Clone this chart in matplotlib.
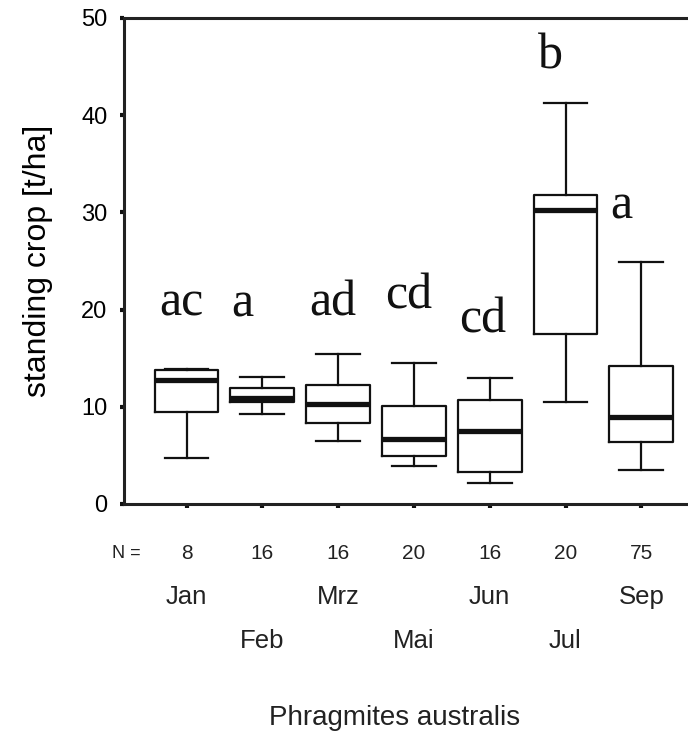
import matplotlib
matplotlib.use("Agg")
import matplotlib.pyplot as plt

# --- data ---
months = ['Jan', 'Feb', 'Mrz', 'Mai', 'Jun', 'Jul', 'Sep']
n_values = ['8', '16', '16', '20', '16', '20', '75']
whisker_low = [4.7, 9.3, 6.5, 3.9, 2.2, 10.5, 3.5]
q1 = [9.5, 10.5, 8.3, 4.9, 3.3, 17.5, 6.35]
median = [12.8, 10.9, 10.3, 6.65, 7.5, 30.2, 8.9]
q3 = [13.8, 11.9, 12.2, 10.1, 10.7, 31.8, 14.2]
whisker_high = [13.9, 13.1, 15.4, 14.5, 13.0, 41.2, 24.9]
groups = ['ac', 'a', 'ad', 'cd', 'cd', 'b', 'a']
group_y = [19.4, 19.3, 19.4, 20.1, 17.6, 44.8, 29.4]

# letter placement (data x) and month row placement
group_x = [0.93, 1.74, 2.93, 3.93, 4.91, 5.80, 6.74]
month_row = [0, 1, 0, 1, 0, 1, 0]

fig = plt.figure(figsize=(6.88, 7.42), dpi=100)
ax = fig.add_axes([0.1802, 0.3208, 0.8198, 0.6550])

stats = []
for i in range(len(months)):
    stats.append(dict(label=months[i], whislo=whisker_low[i], q1=q1[i],
                      med=median[i], q3=q3[i], whishi=whisker_high[i], fliers=[]))

pos = list(range(1, len(months) + 1))
lc = '#111111'
ax.bxp(stats, positions=pos, widths=0.84, capwidths=0.58, showfliers=False,
       boxprops=dict(color=lc, linewidth=1.6),
       whiskerprops=dict(color=lc, linewidth=1.6),
       capprops=dict(color=lc, linewidth=1.6),
       medianprops=dict(color=lc, linewidth=3.8, solid_capstyle='butt'))

ax.set_xlim(0.175, 7.616)
ax.set_ylim(0, 50)
ax.set_yticks([0, 10, 20, 30, 40, 50])
ax.set_xticks(pos)
ax.set_xticklabels([])
ax.tick_params(axis='both', direction='out', length=3, width=3, color=lc,
               labelsize=17, pad=9)
for s in ['left', 'bottom', 'top']:
    ax.spines[s].set_linewidth(2.2)
    ax.spines[s].set_color('#222222')
ax.spines['right'].set_visible(False)
for lab in ax.get_yticklabels():
    lab.set_family('Liberation Sans')

ax.set_ylabel('standing crop [t/ha]', fontsize=23, family='Liberation Sans')
ax.yaxis.set_label_coords(-0.126, 0.5)

# significance letters
for x, y, g in zip(group_x, group_y, groups):
    ax.text(x, y, g, ha='center', va='baseline', fontsize=36,
            family='Liberation Serif', color=lc)

# N row and month rows below the axis
trans = ax.get_xaxis_transform()
ax.text(0.202, -0.101, 'N =', transform=trans, ha='center', va='center',
        fontsize=13, family='Liberation Sans', color='#222222')
for p, n in zip(pos, n_values):
    ax.text(p, -0.101, n, transform=trans, ha='center', va='center',
            fontsize=15, family='Liberation Sans', color='#222222')
for p, m, r in zip(pos, months, month_row):
    ax.text(p, -0.191 - 0.091 * r, m, transform=trans, ha='center', va='center',
            fontsize=18.5, family='Liberation Sans', color='#222222')

fig.text(0.574, 0.032, 'Phragmites australis', ha='center', va='center',
         fontsize=20, family='Liberation Sans', color='#222222')

fig.savefig('out.png', dpi=100)
